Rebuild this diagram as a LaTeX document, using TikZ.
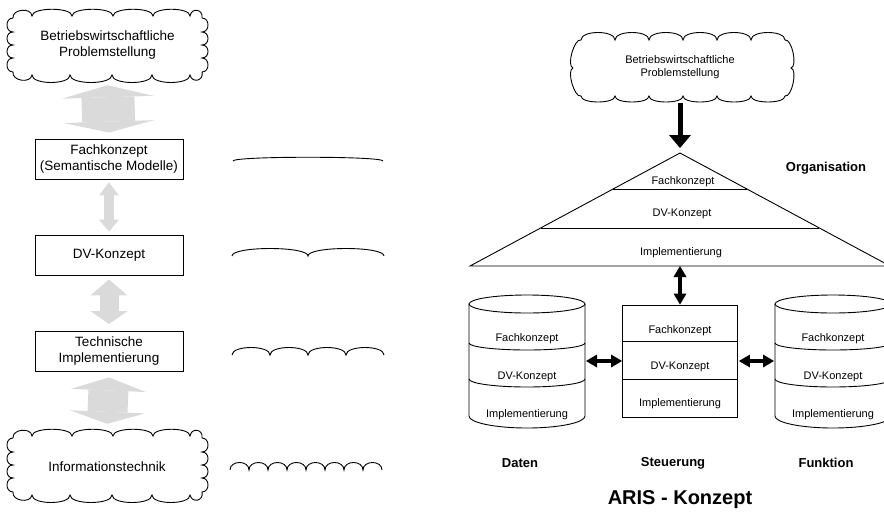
\documentclass[tikz,border=0pt]{standalone}
\usepackage{fontspec}
\setmainfont{Liberation Sans}
\usetikzlibrary{calc,arrows.meta}

\definecolor{arrowgray}{RGB}{218,218,218}

\tikzset{
  % scalloped edge piece bulging to the left of the direction of travel
  bump/.style={to path={.. controls ($(\tikztostart)!#1!90:(\tikztotarget)$)
      and ($(\tikztotarget)!#1!-90:(\tikztostart)$) .. (\tikztotarget)}},
  outline/.style={draw=black, line width=0.9pt},
  lefttext/.style={font=\fontsize{13.5}{16}\selectfont, align=center},
  righttext/.style={font=\fontsize{11}{13}\selectfont, align=center, inner sep=0pt},
  boldlabel/.style={font=\fontsize{13}{15}\selectfont\bfseries, inner sep=0pt},
  titlelabel/.style={font=\fontsize{20}{24}\selectfont\bfseries, inner sep=0pt},
  layerbox/.style={outline, minimum width=148pt, minimum height=40pt, inner sep=0pt, lefttext},
  cloudnode/.style={minimum width=#1, inner sep=0pt},
  grayarrow/.style n args={4}{line width=#1, draw=arrowgray,
      {Triangle[width=#2,length=#3,line width=0pt]}-{Triangle[width=#2,length=#4,line width=0pt]}},
  blackarrow/.style={line width=5pt, -{Triangle[width=22pt,length=13pt,line width=0pt]}},
  linkarrow/.style={line width=4pt,
      {Triangle[width=13pt,length=11pt,line width=0pt]}-{Triangle[width=13pt,length=11pt,line width=0pt]}},
}

% cloud outline used on the left-hand side
\newcommand\leftcloud{%
  \draw[outline] (13,18) to[bump=9pt] (32,16) to[bump=9pt] (72,16) to[bump=9pt] (113,16)
    to[bump=9pt] (153,16) to[bump=9pt] (190,16) to[bump=9pt] (202,18)
    to[bump=8pt] (202,32) to[bump=8pt] (202,45) to[bump=8pt] (202,58) to[bump=8pt] (202,72)
    to[bump=9pt] (190,75) to[bump=10pt] (152,75) to[bump=10pt] (112,75) to[bump=10pt] (70,75)
    to[bump=10pt] (32,75) to[bump=9pt] (13,72)
    to[bump=8pt] (13,58) to[bump=8pt] (13,45) to[bump=8pt] (13,32) to[bump=8pt] (13,18);}

% database-like layered cylinder: #1 centre x, #2 name
\newcommand\layercyl[2]{%
  \draw[outline] (#1-58,304) -- (#1-58,416)
    arc[start angle=180, end angle=0, x radius=58, y radius=12] -- (#1+58,304);
  \draw[outline] (#1,304) ellipse[x radius=58, y radius=9];
  \draw[outline] (#1-58,343) arc[start angle=180, end angle=0, x radius=58, y radius=7];
  \draw[outline] (#1-58,379) arc[start angle=180, end angle=0, x radius=58, y radius=8];
  \coordinate (#2-w) at (#1-58,361);
  \coordinate (#2-e) at (#1+58,361);
  \node[righttext] (#2-fk) at (#1,339) {Fachkonzept};
  \node[righttext] (#2-dv) at (#1,377) {DV-Konzept};
  \node[righttext] (#2-im) at (#1,415) {Implementierung};}

\begin{document}
\begin{tikzpicture}[x=1pt, y=-1pt]
  \useasboundingbox (0,0) rectangle (884,512);

  % ---------------- left: layers between business problem and IT
  \leftcloud
  \node[cloudnode=203pt, minimum height=75pt, lefttext] (pb1) at (107.5,45.5)
    {Betriebswirtschaftliche\\Problemstellung};

  \node[layerbox] (fk) at (109,159) {Fachkonzept\\(Semantische Modelle)};
  \node[layerbox] (dv) at (109,255) {DV-Konzept};
  \node[layerbox] (ti) at (109,351.5) {Technische\\Implementierung};

  \begin{scope}[shift={(0,420)}]
    \leftcloud
  \end{scope}
  \node[cloudnode=197pt, minimum height=76pt, lefttext] (it) at (107,467) {Informationstechnik};

  \draw[grayarrow={53pt}{91pt}{12pt}{11pt}] ($(pb1.south)+(0,2)$) -- ($(fk.north)+(0,-6)$);
  \draw[grayarrow={10pt}{20pt}{13pt}{12pt}] ($(fk.south)+(0,3)$) -- ($(dv.north)+(0,-3)$);
  \draw[grayarrow={19pt}{37pt}{16pt}{13pt}] ($(dv.south)+(0,4)$) -- ($(ti.north)+(0,-7)$);
  \draw[grayarrow={40pt}{75pt}{13pt}{12pt}] ($(ti.south)+(0,5.5)$) -- ($(it.north)+(0,-5)$);

  % arcs growing in number from layer to layer
  \draw[outline] (233,161) to[bump=5pt] (383,161);
  \draw[outline] (232,256) to[bump=10pt] (308,256) to[bump=10pt] (384,256);
  \draw[outline] (232,355) to[bump=10pt] (270,355) to[bump=10pt] (308,355)
    to[bump=10pt] (346,355) to[bump=10pt] (384,355);
  \draw[outline] (230,470) to[bump=10pt] (249,470) to[bump=10pt] (268,470)
    to[bump=10pt] (287,470) to[bump=10pt] (306,470) to[bump=10pt] (325,470)
    to[bump=10pt] (344,470) to[bump=10pt] (363,470) to[bump=10pt] (382,470);

  % ---------------- right: ARIS house
  \draw[outline] (573,68) to[bump=7pt] (581,40) to[bump=10pt] (615,40) to[bump=10pt] (649,40)
    to[bump=10pt] (683,40) to[bump=10pt] (717,40) to[bump=10pt] (751,40) to[bump=10pt] (785,40)
    to[bump=7pt] (791,68) to[bump=7pt] (785,96)
    to[bump=8pt] (751,96) to[bump=8pt] (717,96) to[bump=8pt] (683,96) to[bump=8pt] (649,96)
    to[bump=8pt] (615,96) to[bump=8pt] (581,96) to[bump=7pt] (573,68);
  \node[cloudnode=220pt, minimum height=70pt, righttext] (pb2) at (680,67)
    {Betriebswirtschaftliche\\Problemstellung};

  \coordinate (apex) at (680,153);
  \coordinate (bl) at (470,266);
  \coordinate (br) at (890,266);
  \coordinate (basemid) at (680,266);
  \draw[outline] (apex) -- (bl) -- (br) -- cycle;
  \draw[outline] ($(apex)!0.3186!(bl)$) -- ($(apex)!0.3186!(br)$);
  \draw[outline] ($(apex)!0.6637!(bl)$) -- ($(apex)!0.6637!(br)$);
  \node[righttext] (org-fk) at (683,182) {Fachkonzept};
  \node[righttext] (org-dv) at (682,214) {DV-Konzept};
  \node[righttext] (org-im) at (681,253) {Implementierung};
  \node[boldlabel] (org) at (826,168) {Organisation};

  \draw[blackarrow] ($(pb2.south)+(0,1)$) -- ($(apex)+(0,-5)$);

  \node[outline, minimum width=115pt, minimum height=112pt, inner sep=0pt] (st) at (680,361) {};
  \draw[outline] ($(st.north west)+(0,37)$) -- ($(st.north east)+(0,37)$);
  \draw[outline] ($(st.north west)+(0,75)$) -- ($(st.north east)+(0,75)$);
  \node[righttext] (st-fk) at (680,331) {Fachkonzept};
  \node[righttext] (st-dv) at (680,367) {DV-Konzept};
  \node[righttext] (st-im) at (680,404) {Implementierung};

  \layercyl{527}{dat}
  \layercyl{833}{fun}

  \draw[linkarrow] (basemid) -- (st.north);
  \draw[linkarrow] ($(dat-e)+(1,0)$) -- (st.west);
  \draw[linkarrow] ($(st.east)+(1,0)$) -- ($(fun-w)+(-1,0)$);

  \node[boldlabel] (daten) at (520,463) {Daten};
  \node[boldlabel] (steuerung) at (673,463) {Steuerung};
  \node[boldlabel] (funktion) at (826,463) {Funktion};
  \node[titlelabel] (aris) at (680,500) {ARIS - Konzept};
\end{tikzpicture}
\end{document}
